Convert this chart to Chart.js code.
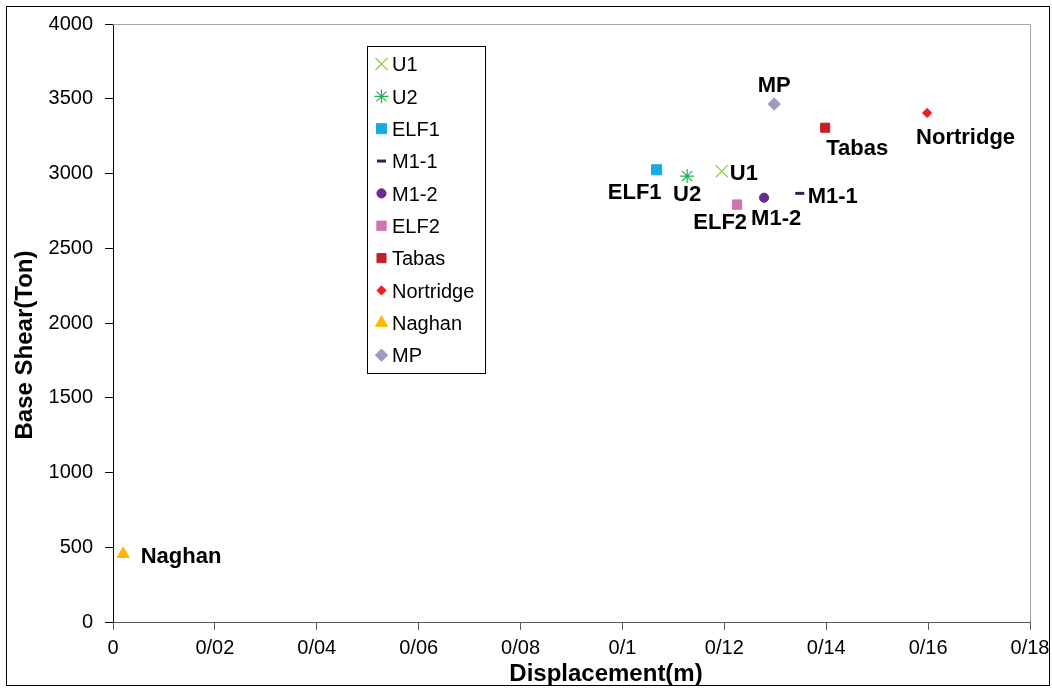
<!DOCTYPE html>
<html>
<head>
<meta charset="utf-8">
<script src="https://cdn.jsdelivr.net/npm/chart.js@4.4.0/dist/chart.umd.min.js"></script>
<style>
  html, body { margin: 0; padding: 0; background: #fff; }
  #wrap { width: 1052px; height: 688px; }
</style>
</head>
<body>
<div id="wrap"><canvas id="myChart" width="1052" height="688"></canvas></div>
<script>
// data
const seriesNames = ['U1', 'U2', 'ELF1', 'M1-1', 'M1-2', 'ELF2', 'Tabas', 'Nortridge', 'Naghan', 'MP'];
const displacement = [0.1195, 0.1127, 0.1067, 0.1348, 0.1278, 0.1225, 0.1398, 0.1598, 0.002, 0.1298];
const baseShear = [3015, 2983, 3025, 2867, 2838, 2792, 3306, 3405, 455, 3465];
const xTickLabels = ['0', '0/02', '0/04', '0/06', '0/08', '0/1', '0/12', '0/14', '0/16', '0/18'];
const yTickLabels = ['0', '500', '1000', '1500', '2000', '2500', '3000', '3500', '4000'];

// marker styles
const colors = ['#92d050', '#1fb350', '#19a9e3', '#1f2a4f', '#6a2b8e', '#d073b2', '#c0202a', '#ee1c25', '#ffb800', '#a597c3'];
const pointStyles = ['crossRot', 'star', 'rect', 'line', 'circle', 'rect', 'rect', 'rectRot', 'triangle', 'rectRot'];
const pointSizes = [8.5, 7, 7.1, 4.5, 4.6, 6.6, 6.4, 4.6, 7, 6.2];
const borderWidths = [1.3, 1.2, 1, 3, 1, 1, 1, 1, 1, 1];

// label offsets from the marker: [dx, dy, align]
const labelPos = {
    'U1': [8, 1, 'left'],
    'U2': [0, 17.5, 'center'],
    'ELF1': [5, 21, 'right'],
    'M1-1': [8, 2, 'left'],
    'M1-2': [-13, 19.5, 'left'],
    'ELF2': [10, 17, 'right'],
    'Tabas': [1, 19, 'left'],
    'Nortridge': [-11, 23, 'left'],
    'Naghan': [17.5, 1, 'left'],
    'MP': [0, -20, 'center']
};

const datasets = seriesNames.map((name, i) => ({
    label: name,
    data: [{ x: displacement[i], y: baseShear[i] }],
    pointStyle: pointStyles[i],
    pointRadius: pointSizes[i],
    pointHoverRadius: pointSizes[i],
    pointBackgroundColor: colors[i],
    pointBorderColor: colors[i],
    pointBorderWidth: borderWidths[i],
    showLine: false
}));

const extras = {
    id: 'extras',
    afterDraw(chart) {
        const ctx = chart.ctx;
        const a = chart.chartArea;
        ctx.save();

        // top and right edge of plot area
        ctx.strokeStyle = '#a6a6a6';
        ctx.lineWidth = 1;
        ctx.beginPath();
        ctx.moveTo(a.left, Math.round(a.top) + 0.5);
        ctx.lineTo(Math.round(a.right) + 0.5, Math.round(a.top) + 0.5);
        ctx.lineTo(Math.round(a.right) + 0.5, a.bottom);
        ctx.stroke();

        // outer frame
        ctx.strokeStyle = '#000';
        ctx.strokeRect(6.5, 6.5, 1043, 679);

        // axis titles
        ctx.fillStyle = '#000';
        ctx.font = 'bold 24px Arial, "Liberation Sans"';
        ctx.textAlign = 'center';
        ctx.textBaseline = 'middle';
        ctx.fillText('Displacement(m)', 606, 674);
        ctx.save();
        ctx.translate(25, 345);
        ctx.rotate(-Math.PI / 2);
        ctx.fillText('Base Shear(Ton)', 0, 0);
        ctx.restore();

        // point labels
        ctx.font = 'bold 22px Arial, "Liberation Sans"';
        ctx.textBaseline = 'alphabetic';
        chart.data.datasets.forEach((ds, i) => {
            const pt = chart.getDatasetMeta(i).data[0];
            const p = labelPos[ds.label];
            ctx.textAlign = p[2];
            ctx.fillText(ds.label, pt.x + p[0], pt.y + p[1] + 7.8);
        });

        // legend box
        const lx = 367.5, ly = 46.5, lw = 118, lh = 327;
        ctx.fillStyle = '#fff';
        ctx.fillRect(lx, ly, lw, lh);
        ctx.strokeStyle = '#000';
        ctx.lineWidth = 1;
        ctx.strokeRect(lx, ly, lw, lh);
        ctx.font = '20px Arial, "Liberation Sans"';
        ctx.textAlign = 'left';
        chart.data.datasets.forEach((ds, i) => {
            const y = 64 + i * 32.35;
            ctx.fillStyle = colors[i];
            ctx.strokeStyle = colors[i];
            ctx.lineWidth = borderWidths[i];
            Chart.helpers.drawPoint(ctx, {
                pointStyle: pointStyles[i],
                radius: pointSizes[i],
                borderWidth: borderWidths[i],
                rotation: 0
            }, 381.5, y);
            ctx.fillStyle = '#000';
            ctx.fillText(ds.label, 392, y + 7.3);
        });

        ctx.restore();
    }
};

new Chart(document.getElementById('myChart'), {
    type: 'scatter',
    data: { datasets: datasets },
    options: {
        responsive: false,
        animation: false,
        devicePixelRatio: 1,
        layout: { padding: { left: 6, right: 22, top: 24, bottom: 0 } },
        plugins: {
            legend: { display: false },
            tooltip: { enabled: false }
        },
        scales: {
            x: {
                type: 'linear',
                min: 0,
                max: 0.18,
                afterFit: (scale) => {
                    scale.height = 66;
                    scale.paddingLeft = 0;
                    scale.paddingRight = 0;
                },
                ticks: {
                    stepSize: 0.02,
                    color: '#000',
                    font: { size: 20, family: 'Arial, "Liberation Sans"' },
                    padding: 6,
                    maxRotation: 0,
                    autoSkip: false,
                    callback: (v, i) => xTickLabels[i]
                },
                grid: { drawOnChartArea: false, tickLength: 8, color: '#595959' },
                border: { color: '#595959', width: 1 }
            },
            y: {
                min: 0,
                max: 4000,
                afterFit: (scale) => { scale.width = 107; },
                ticks: {
                    stepSize: 500,
                    color: '#000',
                    font: { size: 20, family: 'Arial, "Liberation Sans"' },
                    padding: 12,
                    callback: (v, i) => yTickLabels[i]
                },
                grid: { drawOnChartArea: false, tickLength: 8, color: '#000' },
                border: { color: '#000', width: 1 }
            }
        }
    },
    plugins: [extras]
});
</script>
</body>
</html>
